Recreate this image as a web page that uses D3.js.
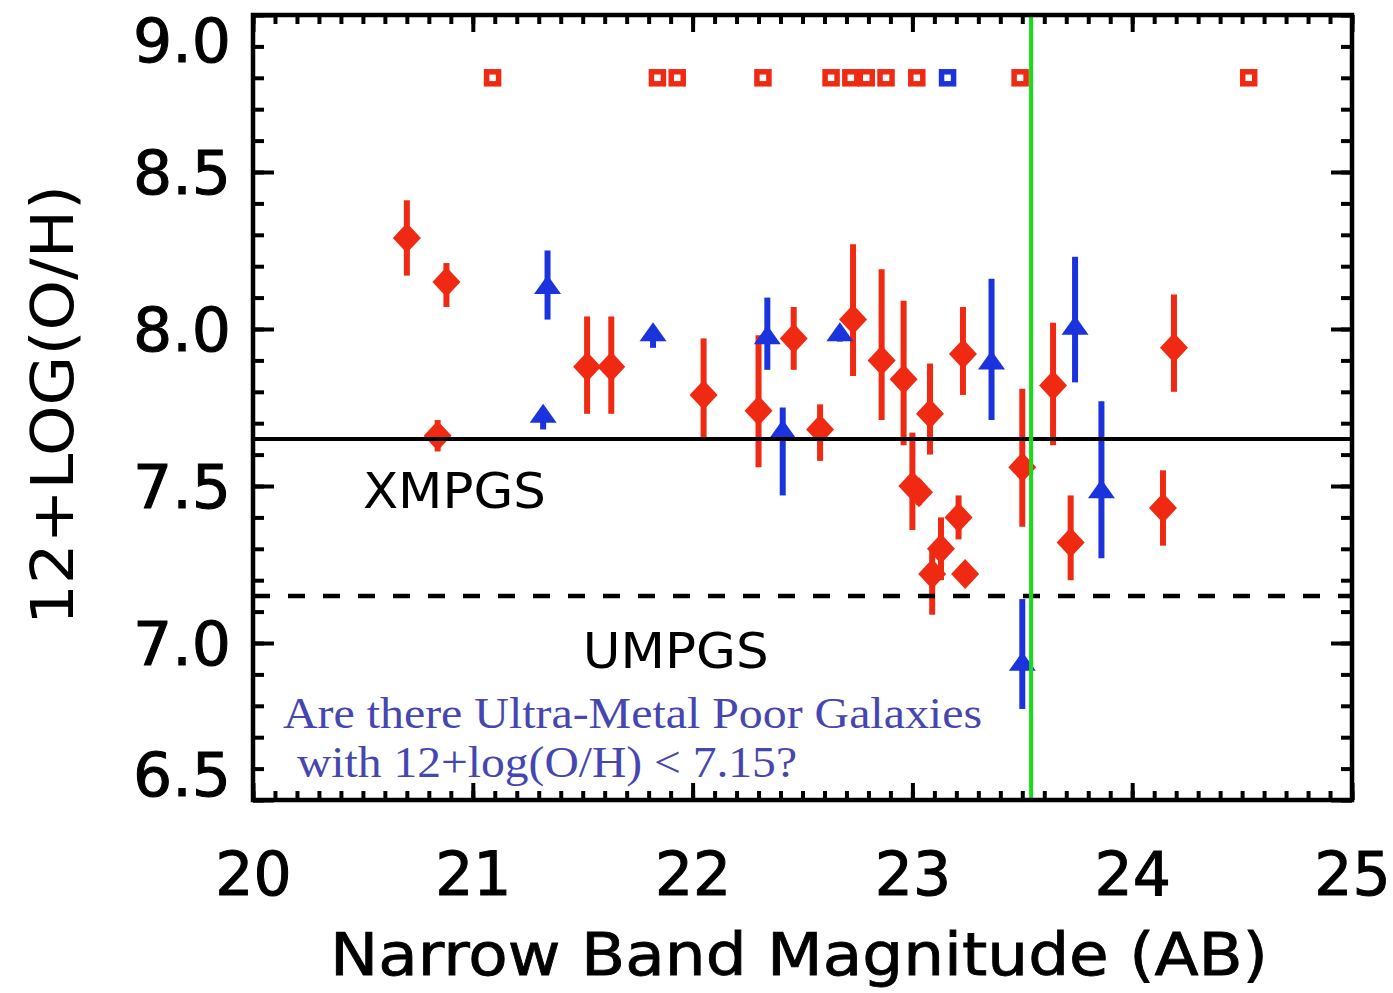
<!DOCTYPE html>
<html>
<head>
<meta charset="utf-8">
<script src="https://cdn.jsdelivr.net/npm/d3@7"></script>
<style>
  body { margin: 0; background: #fff; }
  svg { display: block; }
</style>
</head>
<body>
<div id="chart"></div>
<script>
// measured galaxies: magnitude, 12+log(O/H), error range
const redMag = [20.70, 20.88, 20.84, 21.52, 21.63, 22.05, 22.30, 22.46, 22.58, 22.73, 22.86, 22.96, 23.00,
                23.03, 23.08, 23.23, 23.21, 23.13, 23.09, 23.24, 23.50, 23.64, 23.72, 24.19, 24.14];
const redOH  = [8.29, 8.15, 7.66, 7.88, 7.88, 7.79, 7.74, 7.97, 7.68, 8.03, 7.90, 7.84, 7.50,
                7.48, 7.73, 7.92, 7.40, 7.30, 7.22, 7.22, 7.56, 7.82, 7.32, 7.94, 7.43];
const redLo  = [8.17, 8.07, 7.61, 7.73, 7.73, 7.65, 7.56, 7.87, 7.58, 7.85, 7.71, 7.63, 7.36,
                7.44, 7.60, 7.79, 7.33, 7.20, 7.09, 7.20, 7.37, 7.63, 7.20, 7.80, 7.31];
const redHi  = [8.41, 8.21, 7.71, 8.04, 8.04, 7.97, 7.98, 8.07, 7.76, 8.27, 8.19, 8.09, 7.67,
                7.52, 7.89, 8.07, 7.47, 7.40, 7.30, 7.24, 7.81, 8.02, 7.47, 8.11, 7.55];

const blueMag = [21.34, 21.32, 21.82, 22.34, 22.41, 22.67, 23.36, 23.74, 23.86, 23.50];
const blueOH  = [8.14, 7.73, 7.99, 7.98, 7.68, 7.99, 7.90, 8.01, 7.49, 6.94];
const blueLo  = [8.03, 7.68, 7.94, 7.87, 7.47, 7.96, 7.71, 7.83, 7.27, 6.79];
const blueHi  = [8.25, 7.73, 7.99, 8.10, 7.75, 7.99, 8.16, 8.23, 7.77, 7.14];

// objects with no measurement, plotted at the top row
const redLimitMag = [21.09, 21.84, 21.93, 22.32, 22.63, 22.72, 22.79, 22.88, 23.02, 23.49, 24.53];
const blueLimitMag = [23.16];
const limitOH = 8.8;

const xmpgLevel = 7.65;
const umpgLevel = 7.15;
const magLimit = 23.54;

const xTicks = [20, 21, 22, 23, 24, 25];
const yTicks = [6.5, 7.0, 7.5, 8.0, 8.5, 9.0];

const width = 1393, height = 993;
const margin = {top: 15, right: 41, bottom: 193, left: 253};
const red = "#f02a12", blue = "#1a33dd", green = "#16dd16";

const svg = d3.select("#chart").append("svg")
  .attr("width", width)
  .attr("height", height);

const x = d3.scaleLinear().domain([20, 25]).range([margin.left, width - margin.right]);
const y = d3.scaleLinear().domain([6.5, 9.0]).range([height - margin.bottom, margin.top]);

const xMinor = d3.range(20, 25.001, 0.1);
const yMinor = d3.range(6.5, 9.001, 0.1);
const plotW = width - margin.left - margin.right;
const plotH = height - margin.top - margin.bottom;

function styleAxis(g) {
  g.select(".domain").remove();
  g.selectAll("line").attr("stroke", "#000").attr("stroke-width", 4);
}

// minor ticks, all four sides, pointing inward
svg.append("g").attr("transform", `translate(0,${y(6.5)})`)
  .call(d3.axisBottom(x).tickValues(xMinor).tickSize(-9).tickFormat(""))
  .call(styleAxis);
svg.append("g").attr("transform", `translate(0,${y(9.0)})`)
  .call(d3.axisTop(x).tickValues(xMinor).tickSize(-9).tickFormat(""))
  .call(styleAxis);
svg.append("g").attr("transform", `translate(${x(20)},0)`)
  .call(d3.axisLeft(y).tickValues(yMinor).tickSize(-11).tickFormat(""))
  .call(styleAxis);
svg.append("g").attr("transform", `translate(${x(25)},0)`)
  .call(d3.axisRight(y).tickValues(yMinor).tickSize(-11).tickFormat(""))
  .call(styleAxis);

// major ticks with labels
const xAxis = svg.append("g").attr("transform", `translate(0,${y(6.5)})`)
  .call(d3.axisBottom(x).tickValues(xTicks).tickSize(-17).tickPadding(52).tickFormat(d3.format("d")))
  .call(styleAxis);
svg.append("g").attr("transform", `translate(0,${y(9.0)})`)
  .call(d3.axisTop(x).tickValues(xTicks).tickSize(-17).tickFormat(""))
  .call(styleAxis);
const yAxis = svg.append("g").attr("transform", `translate(${x(20)},0)`)
  .call(d3.axisLeft(y).tickValues(yTicks).tickSize(-21).tickPadding(22).tickFormat(d3.format(".1f")))
  .call(styleAxis);
svg.append("g").attr("transform", `translate(${x(25)},0)`)
  .call(d3.axisRight(y).tickValues(yTicks).tickSize(-21).tickFormat(""))
  .call(styleAxis);

xAxis.selectAll("text")
  .attr("font-family", "DejaVu Sans")
  .attr("font-size", 60)
  .attr("fill", "#000")
  .attr("stroke", "#000").attr("stroke-width", 1);
yAxis.selectAll("text")
  .attr("font-family", "DejaVu Sans")
  .attr("font-size", 60)
  .attr("fill", "#000")
  .attr("stroke", "#000").attr("stroke-width", 1)
  .attr("textLength", 98).attr("lengthAdjust", "spacingAndGlyphs")
  .attr("dy", d => d === 9.0 ? "0.78em" : d === 6.5 ? "-0.08em" : "0.36em");

// error bars and points
const diamond = "M0,-15L14,0L0,15L-14,0Z";
const triangle = "M0,-10L13.5,9L-13.5,9Z";

const redIdx = d3.range(redMag.length);
const blueIdx = d3.range(blueMag.length);

svg.append("g").selectAll("line")
  .data(redIdx).join("line")
  .attr("x1", i => x(redMag[i])).attr("x2", i => x(redMag[i]))
  .attr("y1", i => y(redLo[i])).attr("y2", i => y(redHi[i]))
  .attr("stroke", red).attr("stroke-width", 6);
svg.append("g").selectAll("path")
  .data(redIdx).join("path")
  .attr("d", diamond)
  .attr("transform", i => `translate(${x(redMag[i])},${y(redOH[i])})`)
  .attr("fill", red);

svg.append("g").selectAll("line")
  .data(blueIdx).join("line")
  .attr("x1", i => x(blueMag[i])).attr("x2", i => x(blueMag[i]))
  .attr("y1", i => y(blueLo[i])).attr("y2", i => y(blueHi[i]))
  .attr("stroke", blue).attr("stroke-width", 6);
svg.append("g").selectAll("path")
  .data(blueIdx).join("path")
  .attr("d", triangle)
  .attr("transform", i => `translate(${x(blueMag[i])},${y(blueOH[i])})`)
  .attr("fill", blue);

// open squares along the top
svg.append("g").selectAll("rect")
  .data(redLimitMag.map(m => ({m, c: red})).concat(blueLimitMag.map(m => ({m, c: blue}))))
  .join("rect")
  .attr("x", d => x(d.m) - 6).attr("y", y(limitOH) - 6)
  .attr("width", 12).attr("height", 12)
  .attr("fill", "#fff")
  .attr("stroke", d => d.c)
  .attr("stroke-width", 5.5);

// reference levels
svg.append("line")
  .attr("x1", x(20)).attr("x2", x(25))
  .attr("y1", y(xmpgLevel)).attr("y2", y(xmpgLevel))
  .attr("stroke", "#000").attr("stroke-width", 4);
svg.append("line")
  .attr("x1", x(20)).attr("x2", x(25))
  .attr("y1", y(umpgLevel)).attr("y2", y(umpgLevel))
  .attr("stroke", "#000").attr("stroke-width", 4.5)
  .attr("stroke-dasharray", "17,18");
svg.append("line")
  .attr("x1", x(magLimit)).attr("x2", x(magLimit))
  .attr("y1", y(9.0)).attr("y2", y(6.5))
  .attr("stroke", green).attr("stroke-width", 4);

// frame
svg.append("rect")
  .attr("x", x(20)).attr("y", y(9.0))
  .attr("width", plotW).attr("height", plotH)
  .attr("fill", "none").attr("stroke", "#000").attr("stroke-width", 4.5);

// labels
svg.append("text")
  .attr("x", x(20.5)).attr("y", y(7.43))
  .attr("font-family", "DejaVu Sans").attr("font-size", 50)
  .attr("textLength", 183).attr("lengthAdjust", "spacingAndGlyphs")
  .text("XMPGS");
svg.append("text")
  .attr("x", x(21.5)).attr("y", y(6.92))
  .attr("font-family", "DejaVu Sans").attr("font-size", 50)
  .attr("textLength", 186).attr("lengthAdjust", "spacingAndGlyphs")
  .text("UMPGS");

svg.append("text")
  .attr("x", 283).attr("y", 728)
  .attr("font-family", "Liberation Serif").attr("font-size", 44)
  .attr("fill", "#4646b0")
  .attr("textLength", 699).attr("lengthAdjust", "spacingAndGlyphs")
  .text("Are there Ultra-Metal Poor Galaxies");
svg.append("text")
  .attr("x", 297).attr("y", 777)
  .attr("font-family", "Liberation Serif").attr("font-size", 44)
  .attr("fill", "#4646b0")
  .attr("textLength", 500).attr("lengthAdjust", "spacingAndGlyphs")
  .text("with 12+log(O/H) < 7.15?");

svg.append("text")
  .attr("x", 799).attr("y", 975)
  .attr("text-anchor", "middle")
  .attr("font-family", "DejaVu Sans").attr("font-size", 58)
  .attr("stroke", "#000").attr("stroke-width", 0.8)
  .attr("textLength", 938).attr("lengthAdjust", "spacingAndGlyphs")
  .text("Narrow  Band  Magnitude  (AB)");

svg.append("text")
  .attr("transform", `translate(73,${405}) rotate(-90)`)
  .attr("text-anchor", "middle")
  .attr("font-family", "DejaVu Sans").attr("font-size", 58)
  .attr("textLength", 440).attr("lengthAdjust", "spacingAndGlyphs")
  .text("12+LOG(O/H)");
</script>
</body>
</html>
